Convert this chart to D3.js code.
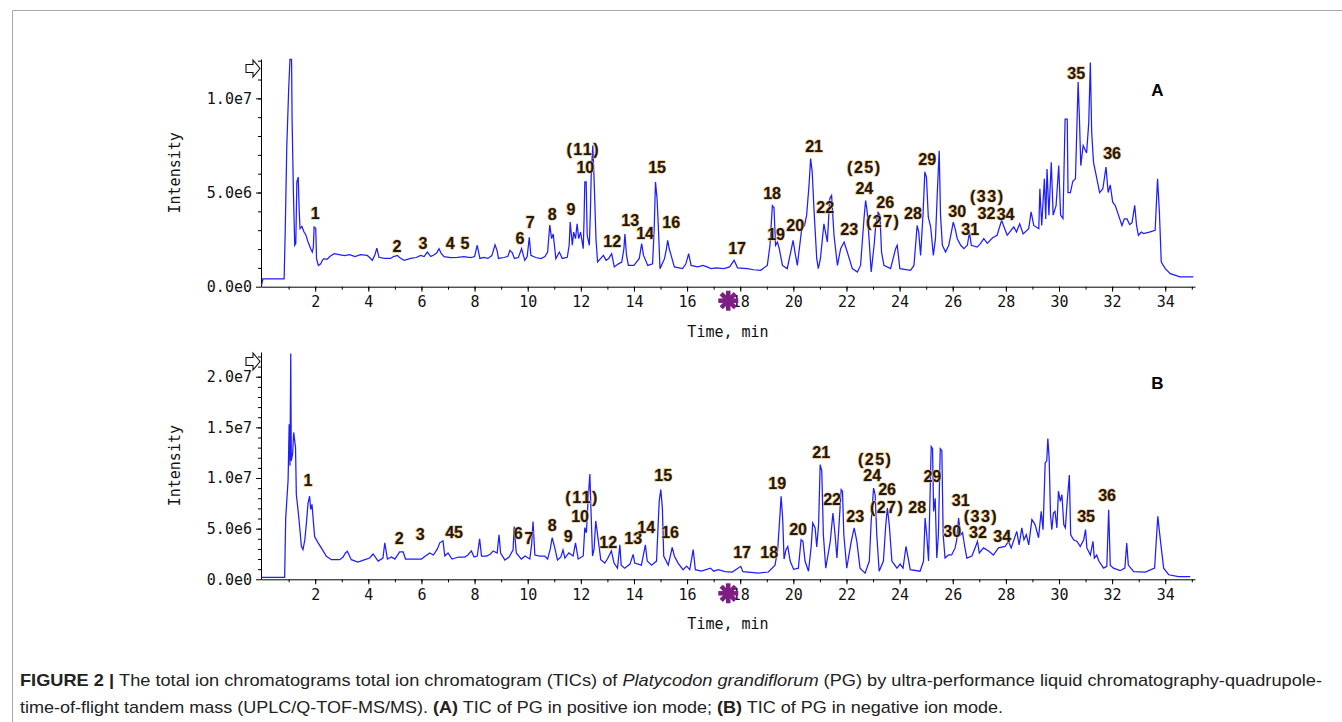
<!DOCTYPE html>
<html>
  <head>
    <meta charset="utf-8">
    <title>TIC of Platycodon grandiflorum</title>
    <script src="https://d3js.org/d3.v7.min.js"></script>
    <style>
      body { margin: 0; background: #fff; }
      .tick text, .axisTitle { font-family: "DejaVu Sans Mono", monospace; font-size: 15px; fill: #111; }
      .peak { font-family: "Liberation Sans", Arial, sans-serif; font-size: 16px; font-weight: bold; fill: #1a1a1a;
              stroke: #f0b464; stroke-width: 1.2px; paint-order: stroke; }
      .panel { font-family: "Liberation Sans", Arial, sans-serif; font-size: 17px; font-weight: bold; fill: #000; }
      .caption { font-family: "Liberation Sans", Arial, sans-serif; font-size: 17px; fill: #222; }
    </style>
  </head>
  <body>
    <script>
      // ---- data (time in min, intensity in millions of counts) ----
      // positive ion mode TIC
      posTIC = [[-0.02,0.07],[0.03,0.42],[0.83,0.42],[0.87,2.8],[0.93,7.4],[1.0,10.4],[1.05,12.07],[1.11,12.07],[1.13,8.9],[1.18,5.0],[1.23,2.2],[1.27,2.3],[1.31,5.56],[1.36,5.82],[1.40,3.97],[1.43,3.08],[1.5,3.2],[1.58,2.9],[1.65,2.75],[1.71,2.46],[1.78,2.2],[1.83,2.02],[1.89,1.84],[1.93,2.1],[1.96,3.17],[2.02,3.1],[2.05,1.49],[2.12,1.13],[2.21,1.22],[2.27,1.4],[2.33,1.49],[2.45,1.45],[2.55,1.6],[2.71,1.75],[2.9,1.7],[3.1,1.65],[3.3,1.7],[3.5,1.6],[3.7,1.7],[3.96,1.66],[4.05,1.55],[4.15,1.4],[4.25,1.7],[4.32,2.05],[4.4,1.56],[4.6,1.5],[4.84,1.5],[4.95,1.6],[5.1,1.66],[5.2,1.52],[5.35,1.4],[5.6,1.5],[5.8,1.55],[5.97,1.66],[6.1,1.6],[6.22,1.84],[6.35,1.6],[6.48,1.7],[6.58,1.8],[6.66,2.02],[6.75,1.75],[6.85,1.6],[7.1,1.55],[7.35,1.56],[7.6,1.6],[7.85,1.55],[8.0,1.6],[8.1,2.2],[8.2,1.5],[8.35,1.55],[8.5,1.5],[8.65,1.65],[8.77,2.22],[8.85,1.9],[8.9,1.5],[9.1,1.55],[9.25,1.6],[9.33,1.93],[9.42,1.8],[9.5,1.5],[9.65,1.55],[9.77,2.02],[9.83,1.7],[9.89,1.4],[9.98,1.6],[10.06,2.62],[10.12,1.66],[10.3,1.55],[10.5,1.49],[10.65,1.6],[10.75,1.84],[10.83,3.28],[10.9,2.55],[10.96,2.8],[11.02,2.0],[11.06,1.49],[11.19,1.84],[11.3,1.5],[11.49,1.56],[11.56,2.2],[11.6,3.43],[11.68,2.2],[11.73,2.9],[11.8,2.55],[11.86,3.34],[11.92,2.55],[11.99,2.9],[12.09,2.02],[12.12,3.5],[12.15,5.56],[12.2,5.56],[12.24,2.73],[12.32,2.2],[12.36,4.0],[12.39,5.91],[12.45,7.5],[12.5,5.65],[12.57,2.55],[12.63,1.31],[12.75,1.5],[12.85,1.66],[12.95,1.4],[13.05,1.5],[13.16,1.75],[13.26,1.05],[13.4,1.2],[13.54,1.31],[13.62,2.0],[13.66,2.8],[13.72,1.66],[13.79,1.13],[14.0,1.13],[14.2,1.5],[14.29,2.29],[14.36,1.66],[14.52,1.13],[14.7,1.22],[14.76,3.0],[14.81,5.56],[14.87,4.67],[14.92,3.1],[14.98,0.96],[15.15,1.49],[15.22,2.0],[15.27,2.46],[15.33,2.0],[15.4,1.66],[15.52,1.05],[15.7,1.0],[15.83,0.96],[15.95,1.2],[16.06,1.75],[16.15,1.13],[16.4,1.05],[16.6,1.13],[16.75,1.05],[16.9,0.96],[17.1,1.0],[17.39,0.96],[17.6,1.05],[17.77,1.4],[17.9,1.0],[18.27,0.96],[18.5,0.9],[18.77,0.87],[19.02,1.13],[19.12,2.2],[19.21,4.3],[19.27,4.2],[19.33,2.2],[19.4,2.37],[19.47,2.02],[19.59,1.13],[19.77,0.96],[19.9,1.84],[19.99,2.46],[20.06,1.84],[20.15,1.13],[20.3,2.9],[20.36,3.43],[20.42,3.25],[20.5,3.8],[20.59,5.38],[20.65,6.8],[20.71,6.1],[20.78,4.0],[20.88,1.5],[20.94,0.96],[21.02,1.5],[21.15,3.34],[21.28,2.37],[21.37,4.67],[21.44,4.85],[21.53,2.73],[21.66,1.13],[21.78,2.02],[21.91,2.37],[22.03,1.84],[22.22,0.96],[22.41,0.78],[22.53,1.13],[22.66,3.62],[22.72,4.58],[22.78,3.97],[22.85,2.55],[22.93,0.78],[23.04,2.2],[23.1,3.25],[23.19,3.95],[23.26,3.8],[23.32,1.84],[23.41,1.13],[23.66,0.96],[23.85,2.02],[23.91,2.2],[24.01,0.96],[24.41,0.87],[24.54,1.13],[24.66,3.25],[24.72,2.9],[24.79,1.66],[24.88,3.8],[24.95,6.1],[25.01,5.82],[25.08,3.7],[25.17,3.17],[25.27,1.66],[25.35,2.55],[25.42,5.0],[25.49,7.22],[25.54,3.8],[25.61,2.2],[25.73,1.84],[25.85,2.2],[25.95,2.9],[26.02,3.43],[26.09,3.08],[26.17,2.55],[26.3,2.2],[26.42,2.02],[26.55,2.2],[26.63,2.9],[26.7,2.2],[26.92,2.1],[27.05,2.3],[27.17,2.55],[27.3,2.3],[27.5,2.6],[27.67,2.73],[27.84,3.52],[27.95,3.1],[28.05,2.73],[28.2,3.0],[28.3,3.17],[28.4,2.9],[28.52,3.34],[28.65,2.8],[28.86,3.08],[28.95,3.97],[29.05,3.25],[29.24,3.08],[29.28,5.2],[29.35,3.25],[29.45,5.73],[29.5,3.6],[29.55,6.25],[29.62,3.8],[29.71,6.6],[29.78,3.8],[29.89,4.3],[29.99,6.43],[30.06,3.8],[30.15,3.62],[30.23,8.9],[30.31,8.9],[30.34,5.0],[30.43,5.0],[30.52,5.6],[30.62,5.73],[30.72,10.87],[30.77,8.9],[30.82,6.43],[30.91,7.5],[31.04,7.1],[31.12,8.7],[31.18,11.9],[31.23,8.2],[31.3,6.6],[31.4,5.91],[31.53,5.0],[31.65,5.2],[31.77,6.35],[31.85,5.0],[31.93,5.4],[32.02,4.5],[32.12,4.3],[32.24,3.8],[32.37,3.25],[32.46,3.6],[32.56,3.6],[32.66,3.3],[32.75,3.4],[32.85,4.32],[32.92,3.25],[32.99,2.73],[33.1,2.9],[33.18,2.82],[33.4,2.9],[33.62,2.99],[33.71,5.73],[33.78,3.95],[33.85,1.31],[34.0,0.96],[34.19,0.69],[34.56,0.52],[35.06,0.52]];
      // negative ion mode TIC
      negTIC = [[-0.03,0.2],[0.85,0.2],[0.89,6.05],[0.98,9.8],[1.02,15.3],[1.05,11.2],[1.08,22.3],[1.10,11.7],[1.15,12.4],[1.19,14.5],[1.26,13.0],[1.29,8.35],[1.36,6.7],[1.42,5.07],[1.48,3.26],[1.54,2.93],[1.61,3.9],[1.67,5.56],[1.73,7.5],[1.79,8.2],[1.83,6.9],[1.88,7.4],[1.93,5.76],[1.98,4.2],[2.11,3.6],[2.23,3.1],[2.42,2.27],[2.61,1.94],[2.92,1.94],[3.05,2.2],[3.14,2.6],[3.21,2.76],[3.36,1.94],[3.61,1.7],[3.87,1.94],[4.05,2.1],[4.18,2.5],[4.37,1.8],[4.55,2.1],[4.62,3.6],[4.72,2.0],[4.87,2.2],[5.0,2.0],[5.18,2.7],[5.31,2.7],[5.4,2.0],[5.75,2.0],[6.0,2.0],[6.15,2.3],[6.31,2.6],[6.45,2.4],[6.6,3.0],[6.69,3.6],[6.81,3.8],[6.88,2.3],[7.0,2.6],[7.15,2.0],[7.4,2.2],[7.63,2.2],[7.75,2.4],[7.88,2.8],[7.98,2.2],[8.1,2.3],[8.19,4.0],[8.26,2.3],[8.45,2.3],[8.6,2.5],[8.7,2.8],[8.85,2.6],[8.92,4.4],[8.98,2.6],[9.14,1.9],[9.3,2.2],[9.45,2.9],[9.49,5.2],[9.57,2.6],[9.76,2.0],[9.9,2.3],[10.08,2.0],[10.15,3.5],[10.2,5.7],[10.27,2.4],[10.45,2.3],[10.64,2.3],[10.75,2.0],[10.85,3.0],[10.92,4.1],[11.02,3.1],[11.12,1.9],[11.25,2.2],[11.33,2.9],[11.4,2.1],[11.55,2.6],[11.71,2.3],[11.8,3.6],[11.9,2.0],[12.09,2.3],[12.15,5.1],[12.21,4.6],[12.27,7.7],[12.34,10.4],[12.38,7.0],[12.44,2.3],[12.5,3.0],[12.56,5.76],[12.62,4.6],[12.75,1.94],[12.9,1.6],[13.0,2.0],[13.15,2.8],[13.25,1.6],[13.38,1.1],[13.47,3.4],[13.52,1.4],[13.65,1.1],[13.85,1.5],[13.97,2.46],[14.03,1.6],[14.28,1.4],[14.43,3.4],[14.5,1.8],[14.66,1.4],[14.85,1.8],[14.95,7.7],[15.01,8.85],[15.07,7.0],[15.12,2.3],[15.29,1.4],[15.44,3.15],[15.52,2.3],[15.66,1.6],[15.85,0.95],[15.98,1.3],[16.1,0.95],[16.23,2.93],[16.31,0.95],[16.54,0.8],[16.88,1.1],[17.0,0.8],[17.17,0.95],[17.43,0.75],[17.7,0.72],[18.02,1.28],[18.1,0.75],[18.69,0.62],[19.06,0.72],[19.31,1.4],[19.41,2.9],[19.48,5.72],[19.54,8.2],[19.6,5.9],[19.65,2.0],[19.72,2.9],[19.79,3.24],[19.88,1.8],[20.01,0.98],[20.19,1.1],[20.29,3.91],[20.36,3.74],[20.44,1.8],[20.57,0.8],[20.67,3.2],[20.73,5.56],[20.82,5.07],[20.88,3.2],[20.95,5.4],[21.01,11.33],[21.07,10.7],[21.13,4.4],[21.22,1.1],[21.39,3.74],[21.49,6.55],[21.57,4.4],[21.64,2.1],[21.72,5.4],[21.8,8.85],[21.85,8.7],[21.9,4.4],[22.01,1.1],[22.18,3.74],[22.29,5.07],[22.39,3.74],[22.51,1.1],[22.7,0.6],[22.86,1.8],[22.93,5.72],[23.02,9.0],[23.08,8.35],[23.14,4.4],[23.23,0.8],[23.39,1.8],[23.48,5.4],[23.54,7.04],[23.61,5.4],[23.71,1.8],[23.9,1.1],[24.02,1.5],[24.13,1.1],[24.24,3.24],[24.3,2.4],[24.4,0.95],[24.77,0.8],[24.9,1.8],[24.96,6.05],[25.02,4.4],[25.09,1.8],[25.15,8.7],[25.19,13.1],[25.24,12.9],[25.28,6.7],[25.34,8.0],[25.4,2.1],[25.46,4.4],[25.53,12.9],[25.59,12.7],[25.64,4.4],[25.71,2.1],[25.84,2.4],[25.96,2.4],[26.09,3.1],[26.15,3.9],[26.22,6.05],[26.3,4.4],[26.37,4.6],[26.45,3.24],[26.53,2.1],[26.72,2.3],[26.84,3.1],[26.93,3.74],[27.0,2.6],[27.16,3.1],[27.35,2.8],[27.53,2.4],[27.72,3.1],[27.97,3.24],[28.1,3.74],[28.2,3.1],[28.41,4.73],[28.5,3.4],[28.6,5.07],[28.68,3.9],[28.77,4.4],[28.86,3.4],[28.98,5.89],[29.1,5.4],[29.23,4.1],[29.33,6.7],[29.4,4.9],[29.48,11.5],[29.54,11.7],[29.58,13.9],[29.63,11.9],[29.68,6.4],[29.73,4.9],[29.79,6.55],[29.85,6.7],[29.92,5.07],[29.98,8.7],[30.05,7.7],[30.11,8.35],[30.18,5.4],[30.24,5.07],[30.3,7.4],[30.39,10.3],[30.44,4.4],[30.55,3.91],[30.68,3.74],[30.8,3.24],[30.93,3.91],[31.0,4.9],[31.05,3.1],[31.18,2.4],[31.28,3.74],[31.33,2.1],[31.42,2.4],[31.5,1.8],[31.68,1.1],[31.8,1.28],[31.87,6.87],[31.93,1.4],[32.05,1.1],[32.3,0.85],[32.48,1.1],[32.55,3.57],[32.61,1.4],[32.81,0.75],[33.25,0.72],[33.6,1.1],[33.66,3.74],[33.72,6.22],[33.78,4.73],[33.85,3.1],[33.94,1.1],[34.13,0.45],[34.5,0.27],[34.94,0.27]];
      // peak labels: [text, time, intensity] at label centre
      posLabels = [["1",2.0,3.9],["2",5.08,2.16],["3",6.06,2.32],["4",7.08,2.32],["5",7.64,2.32],["6",9.71,2.58],["7",10.09,3.43],["8",10.92,3.86],["9",11.63,4.12],["(11)",12.09,7.31],["10",12.17,6.35],["12",13.18,2.43],["13",13.86,3.54],["14",14.42,2.85],["15",14.87,6.35],["16",15.4,3.43],["17",17.88,2.05],["18",19.2,4.97],["19",19.35,2.8],["20",20.07,3.27],["21",20.78,7.47],["22",21.2,4.23],["23",22.1,3.06],["(25)",22.67,6.35],["24",22.67,5.24],["26",23.46,4.5],["(27)",23.38,3.49],["28",24.5,3.91],["29",25.04,6.78],["30",26.17,4.02],["31",26.66,3.05],["(33)",27.3,4.81],["32",27.27,3.9],["34",27.99,3.86],["35",30.65,11.34],["36",32.0,7.1]];
      negLabels = [["1",1.73,9.8],["2",5.16,4.08],["3",5.95,4.47],["45",7.23,4.67],["6",9.64,4.57],["7",10.05,4.08],["8",10.92,5.36],["9",11.52,4.27],["(11)",12.05,8.12],["10",11.97,6.25],["12",13.03,3.68],["13",13.97,4.08],["14",14.46,5.16],["15",15.1,10.3],["16",15.36,4.67],["17",18.07,2.7],["18",19.09,2.7],["19",19.39,9.5],["20",20.18,4.97],["21",21.05,12.57],["22",21.46,7.93],["23",22.33,6.25],["(25)",23.08,11.88],["24",22.97,10.3],["26",23.53,8.91],["(27)",23.53,7.14],["28",24.66,7.14],["29",25.23,10.2],["30",25.98,4.77],["31",26.3,7.85],["(33)",27.06,6.2],["32",26.95,4.62],["34",27.86,4.27],["35",31.02,6.25],["36",31.81,8.32]];
      // axis ticks
      timeMajor = d3.range(2, 35, 2);
      timeMinor = d3.range(1, 36, 1);
      posMajor = [0, 5, 10];
      negMajor = [0, 5, 10, 15, 20];
      markerTime = 17.55;

      width = 1342;
      height = 722;
      svg = d3.select("body")
        .append("svg")
          .attr("width", width)
          .attr("height", height);

      // page frame
      svg.append("path")
        .attr("d", "M12.5," + height + "V10.5H" + width)
        .attr("fill", "none")
        .attr("stroke", "#a8a8a8");

      x = d3.scaleLinear()
        .domain([-0.04, 35.12])
        .range([261, 1195]);

      fmtY = function(d) { return d3.format(".1e")(d * 1e6).replace("+", ""); };

      // draws one chromatogram panel
      function drawPanel(data, labels, yMax, yBottom, yTop, letter) {
        let y = d3.scaleLinear()
          .domain([0, yMax])
          .range([yBottom, yTop]);
        let g = svg.append("g");
        // minor ticks
        g.append("g")
          .attr("transform", "translate(0," + yBottom + ")")
          .call(d3.axisBottom(x).tickValues(timeMinor).tickSize(3).tickFormat(""))
          .call(function(s) { s.select(".domain").remove(); });
        g.append("g")
          .attr("transform", "translate(" + x.range()[0] + ",0)")
          .call(d3.axisLeft(y).tickValues(d3.range(1, Math.floor(yMax) + 1)).tickSize(3).tickFormat(""))
          .call(function(s) { s.select(".domain").remove(); });
        // major axes
        g.append("g")
          .attr("transform", "translate(0," + yBottom + ")")
          .call(d3.axisBottom(x).tickValues(timeMajor).tickSize(5).tickSizeOuter(0).tickPadding(5).tickFormat(d3.format("d")));
        g.append("g")
          .attr("transform", "translate(" + x.range()[0] + ",0)")
          .call(d3.axisLeft(y).tickValues(yMax > 15 ? negMajor : posMajor).tickSize(5).tickSizeOuter(0).tickPadding(4).tickFormat(fmtY));
        g.selectAll(".tick text").attr("font-family", null).attr("font-size", null);
        // trace
        g.append("path")
          .datum(data)
          .attr("fill", "none")
          .attr("stroke", "#1e1eff")
          .attr("stroke-width", 1.25)
          .attr("d", d3.line()
            .x(function(d) { return x(d[0]); })
            .y(function(d) { return y(Math.min(d[1], yMax)); }));
        // peak numbers
        g.selectAll(".peak")
            .data(labels)
          .enter().append("text")
            .classed("peak", true)
            .attr("x", function(d) { return x(d[1]); })
            .attr("y", function(d) { return y(d[2]); })
            .attr("dy", "0.36em")
            .attr("text-anchor", "middle")
            .attr("letter-spacing", function(d) { return d[0][0] == "(" ? "1.5px" : null; })
            .text(function(d) { return d[0]; });
        // outline arrow at top of y axis
        let ax = x.range()[0], at = yTop;
        g.append("path")
          .attr("d", "M" + (ax - 15) + "," + (at + 5.5) + "H" + (ax - 8) + "V" + (at + 1) + "L" + (ax - 1) + "," + (at + 9.5)
            + "L" + (ax - 8) + "," + (at + 18) + "V" + (at + 13.5) + "H" + (ax - 15) + "Z")
          .attr("fill", "#fff")
          .attr("stroke", "#111")
          .attr("stroke-width", 1.1);
        // purple marker under the time axis
        let mx = x(markerTime), my = yBottom + 14;
        g.selectAll(".marker")
            .data([0, 45, 90, 135])
          .enter().append("line")
            .attr("x1", mx).attr("y1", my - 10)
            .attr("x2", mx).attr("y2", my + 10)
            .attr("transform", function(d) { return "rotate(" + d + "," + mx + "," + my + ")"; })
            .attr("stroke", "#7d1f82")
            .attr("stroke-width", 4.5);
        // axis titles
        g.append("text")
          .classed("axisTitle", true)
          .attr("transform", "translate(" + (ax - 86) + "," + ((yBottom + yTop) / 2) + ") rotate(-90)")
          .attr("dy", "0.35em")
          .attr("text-anchor", "middle")
          .text("Intensity");
        g.append("text")
          .classed("axisTitle", true)
          .attr("x", d3.mean(x.range()))
          .attr("y", yBottom + 50)
          .attr("text-anchor", "middle")
          .text("Time, min");
        // panel letter
        g.append("text")
          .classed("panel", true)
          .attr("x", x(33.7))
          .attr("y", y(yMax * 0.865))
          .attr("dy", "0.36em")
          .attr("text-anchor", "middle")
          .text(letter);
      }

      drawPanel(posTIC, posLabels, 12.09, 286.7, 59, "A");
      drawPanel(negTIC, negLabels, 22.44, 579.3, 352, "B");

      // caption
      cap1 = svg.append("text")
        .classed("caption", true)
        .attr("x", 20)
        .attr("y", 686)
        .attr("textLength", 1302)
        .attr("lengthAdjust", "spacingAndGlyphs");
      cap1.append("tspan").attr("font-weight", "bold").text("FIGURE 2 | ");
      cap1.append("tspan").text("The total ion chromatograms total ion chromatogram (TICs) of ");
      cap1.append("tspan").attr("font-style", "italic").text("Platycodon grandiflorum");
      cap1.append("tspan").text(" (PG) by ultra-performance liquid chromatography-quadrupole-");
      cap2 = svg.append("text")
        .classed("caption", true)
        .attr("x", 20)
        .attr("y", 713)
        .attr("textLength", 983)
        .attr("lengthAdjust", "spacingAndGlyphs");
      cap2.append("tspan").text("time-of-flight tandem mass (UPLC/Q-TOF-MS/MS). ");
      cap2.append("tspan").attr("font-weight", "bold").text("(A)");
      cap2.append("tspan").text(" TIC of PG in positive ion mode; ");
      cap2.append("tspan").attr("font-weight", "bold").text("(B)");
      cap2.append("tspan").text(" TIC of PG in negative ion mode.");
    </script>
  </body>
</html>
